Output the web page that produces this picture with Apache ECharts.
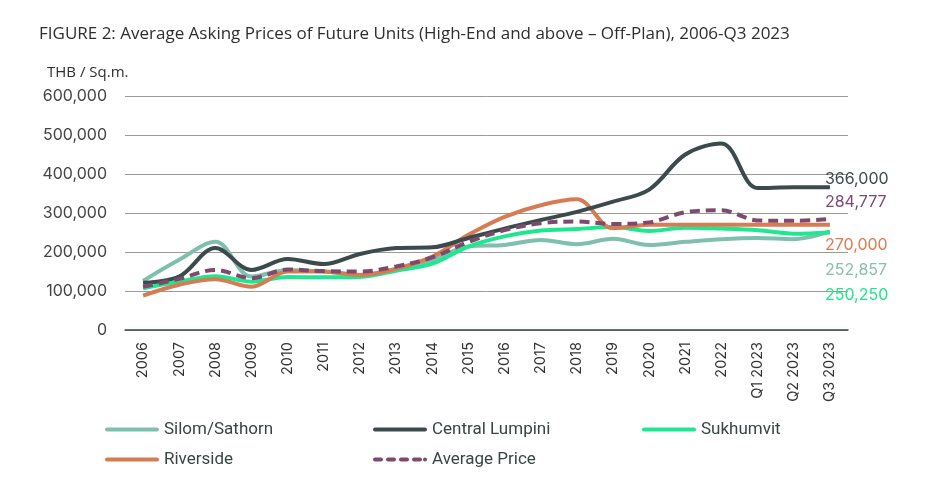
<!DOCTYPE html>
<html>
<head>
<meta charset="utf-8">
<script src="https://cdn.jsdelivr.net/npm/echarts@6/dist/echarts.min.js"></script>
<style>html,body{margin:0;padding:0;background:#fff}#c{width:933px;height:480px}</style>
</head>
<body>
<div id="c"></div>
<script>
const categories = ['2006','2007','2008','2009','2010','2011','2012','2013','2014','2015','2016','2017','2018','2019','2020','2021','2022','Q1 2023','Q2 2023','Q3 2023'];
const silomSathorn = [126000,180000,226000,137000,154000,150000,141000,154000,180000,214000,218000,231000,220000,234000,218000,226000,233000,236000,233000,252857];
const centralLumpini = [121000,137000,210000,154000,182000,169000,195000,210000,212000,236000,260000,282000,303000,329000,360000,450000,478000,364000,366000,366000];
const sukhumvit = [107000,124000,138000,124000,136000,135000,136000,152000,170000,214000,240000,255000,259000,264000,254000,262000,260000,256000,247000,250250];
const riverside = [88000,116000,130000,111000,150000,150000,141000,157000,188000,244000,290000,320000,335000,261000,270000,270000,270000,270000,270000,270000];
const averagePrice = [111000,131000,154000,133000,155000,151000,150000,163000,186000,226000,256000,274000,278000,272000,276000,302000,307000,281000,280000,284777];
const yTicks = [0,100000,200000,300000,400000,500000,600000];

const font = 'Inter, "Noto Sans", sans-serif';
const narrow = 'Roboto, "Liberation Sans", sans-serif';
const titleFont = '"Open Sans", Roboto, sans-serif';
const colors = {silom:'#7fbfad', central:'#3b4a4a', sukh:'#1ee88f', river:'#d77b55', avg:'#7d4a6e'};
const labelColors = {silom:'#86c1b0', central:'#3f4b4b', sukh:'#22e58a', river:'#e07a50', avg:'#7c4a70'};

function mkSeries(name, data, key, offY, dashed) {
  return {
    name, type:'line', data, smooth:0.35, symbol:'none', showSymbol:false,
    lineStyle:{color:colors[key], width:4, type: dashed ? [10,6] : 'solid', cap:'butt'},
    itemStyle:{color:colors[key]},
    endLabel:{show:true, distance:0, offset:[-5, offY], color:labelColors[key], fontFamily:font, fontSize:16,
      formatter: p => Number(p.value).toLocaleString('en-US')},
    emphasis:{disabled:true}, z: 2
  };
}

const solidIcon = 'path://M2,0 L52,0 A2,2 0 0 1 52,4 L2,4 A2,2 0 0 1 2,0 Z';
const dashIcon = 'path://M2,0h6a2,2 0 0 1 0,4h-6a2,2 0 0 1 0,-4z M15,0h6a2,2 0 0 1 0,4h-6a2,2 0 0 1 0,-4z M28,0h6a2,2 0 0 1 0,4h-6a2,2 0 0 1 0,-4z M41,0h6a2,2 0 0 1 0,4h-6a2,2 0 0 1 0,-4z M52,0a2,2 0 0 1 0,4a2,2 0 0 1 0,-4z';

const chart = echarts.init(document.getElementById('c'), null, {renderer:'canvas'});
const legendBase = (name, left, top, icon) => ({
  data:[{name, icon}], left, top, itemWidth:54, itemHeight:4.5, itemGap:4, padding:0,
  textStyle:{fontFamily:narrow, fontSize:17, color:'#3a4444'}, selectedMode:false
});
chart.setOption({
  animation:false,
  title:[
    {text:'FIGURE 2: Average Asking Prices of Future Units (High-End and above – Off-Plan), 2006-Q3 2023', left:34, top:21,
      textStyle:{fontFamily:titleFont, fontSize:17, fontWeight:'normal', color:'#2e2e2e'}},
    {text:'THB / Sq.m.', left:42, top:60, textStyle:{fontFamily:titleFont, fontSize:15, fontWeight:'normal', color:'#2e2e2e'}}
  ],
  legend:[
    legendBase('Silom/Sathorn', 105, 421, solidIcon),
    legendBase('Central Lumpini', 373, 421, solidIcon),
    legendBase('Sukhumvit', 642, 421, solidIcon),
    legendBase('Riverside', 105, 451, solidIcon),
    legendBase('Average Price', 373, 451, dashIcon)
  ],
  grid:{left:125, right:85, top:96, height:234, containLabel:false},
  xAxis:{type:'category', data:categories, boundaryGap:true,
    axisLine:{show:true, lineStyle:{color:'#3d4a4a', width:1.5}}, axisTick:{show:false},
    axisLabel:{rotate:90, margin:12, fontFamily:font, fontSize:14.5, color:'#333', interval:0}},
  yAxis:{type:'value', min:0, max:600000, interval:100000,
    axisLine:{show:false}, axisTick:{show:false},
    splitLine:{lineStyle:{color:'#9a9a9a', width:1}},
    axisLabel:{margin:18, fontFamily:font, fontSize:16, color:'#444',
      formatter: v => yTicks.includes(v) ? v.toLocaleString('en-US') : ''}},
  series:[
    mkSeries('Silom/Sathorn', silomSathorn, 'silom', 39),
    mkSeries('Sukhumvit', sukhumvit, 'sukh', 63),
    mkSeries('Riverside', riverside, 'river', 20),
    mkSeries('Central Lumpini', centralLumpini, 'central', -8),
    mkSeries('Average Price', averagePrice, 'avg', -17, true)
  ]
});
</script>
</body>
</html>
